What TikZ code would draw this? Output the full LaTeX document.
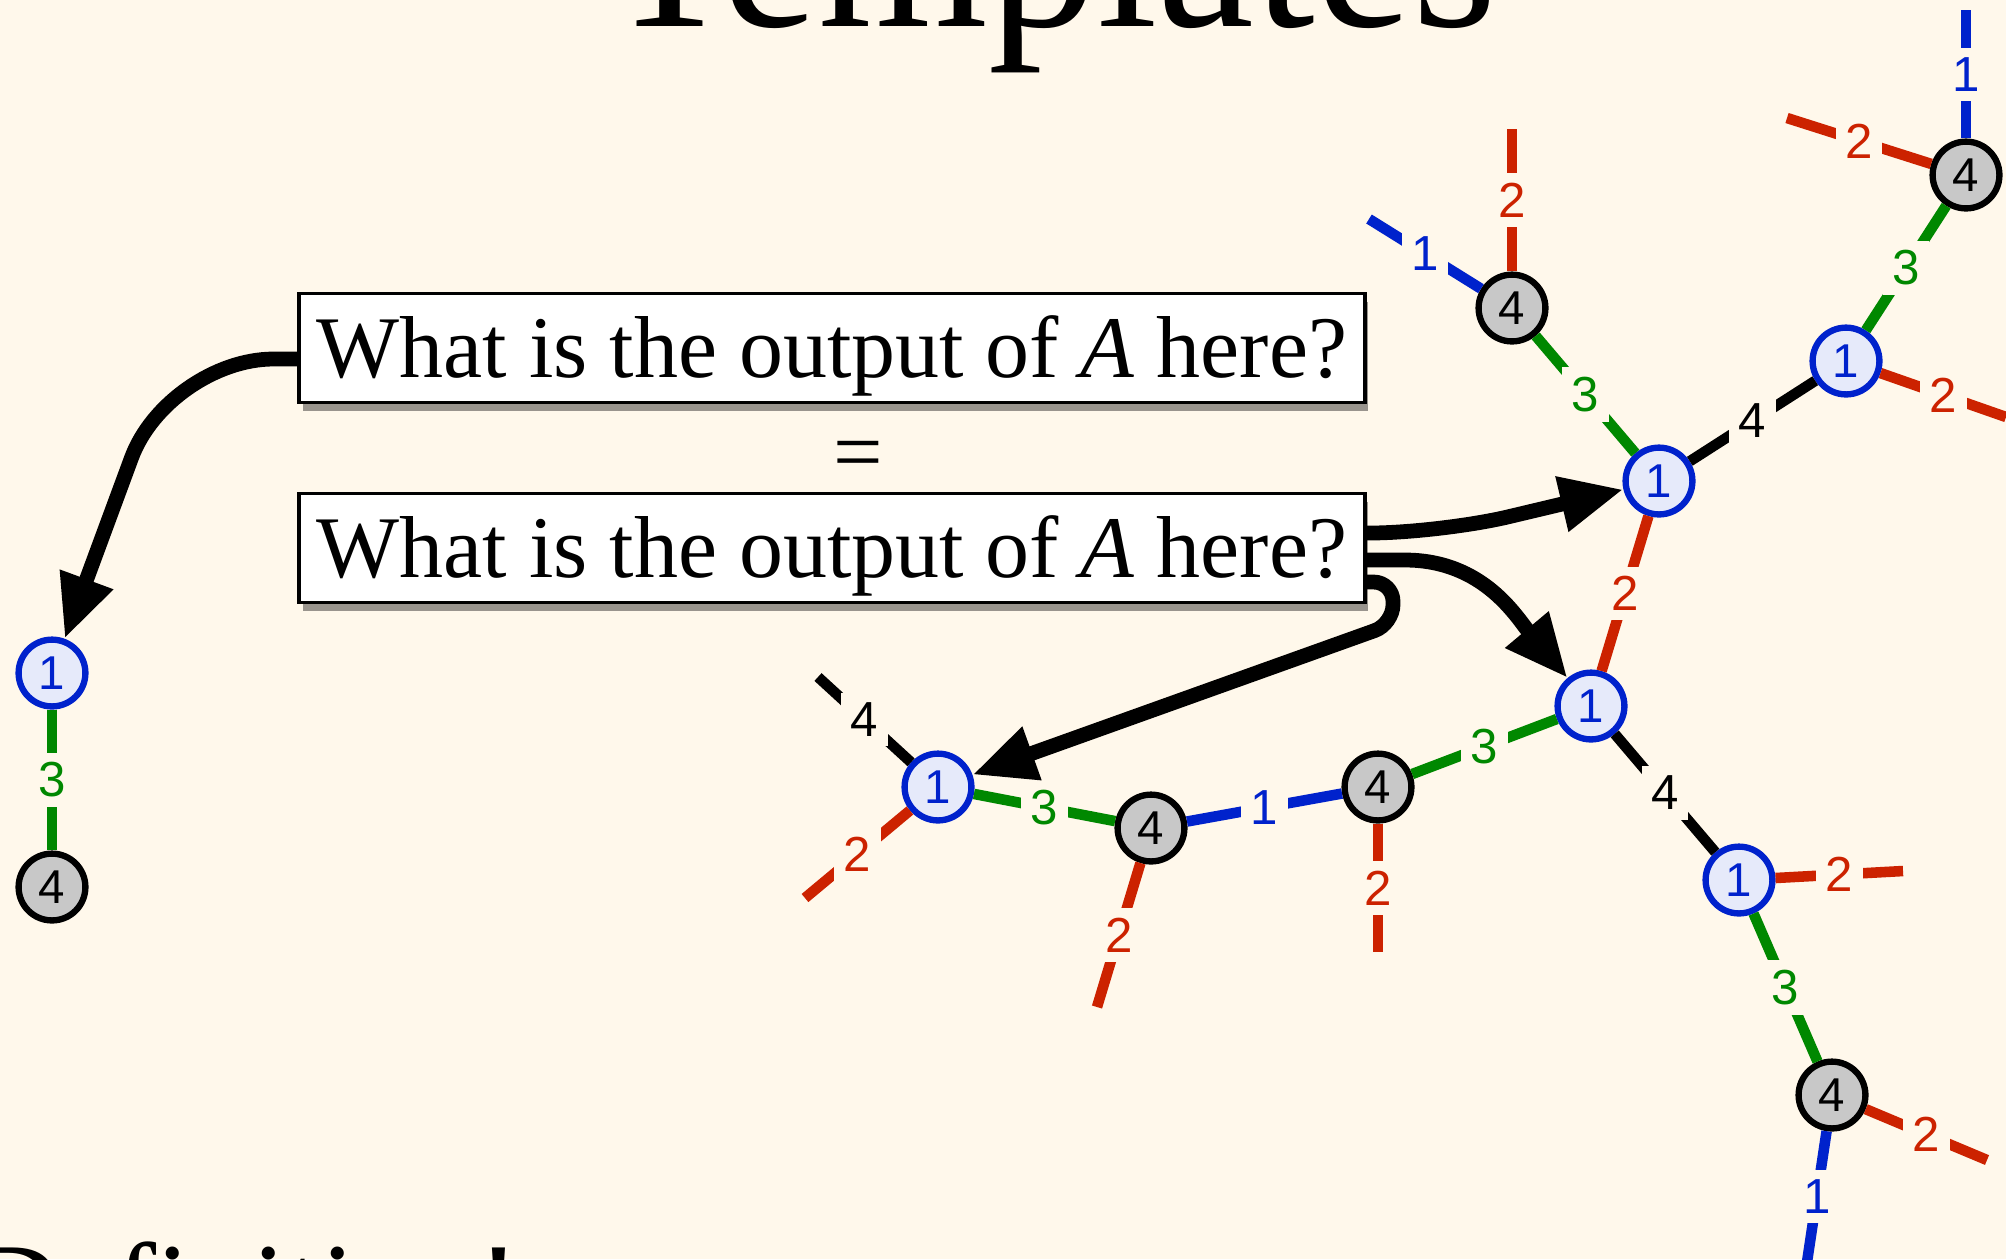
\documentclass[tikz,border=0pt]{standalone}
\usepackage{fontspec}
\setmainfont{Liberation Serif}
\newfontfamily\digitfont{Liberation Sans}
\usetikzlibrary{
  arrows.meta,  % Triangle arrow tips
  shadows       % drop shadow under the question boxes
}
\definecolor{paper}{RGB}{255,248,235}
\definecolor{linkblue}{RGB}{0,34,204}
\definecolor{linkred}{RGB}{204,34,0}
\definecolor{linkgreen}{RGB}{0,136,0}
\definecolor{onefill}{RGB}{230,234,250}
\definecolor{fourfill}{RGB}{200,200,200}
\tikzset{
  vertex one/.style={
    circle,
    draw=linkblue,
    fill=onefill,
    text=linkblue,
    line width=1.8pt,
    minimum size=19pt,
    inner sep=0pt,
    font=\digitfont\fontsize{13.5}{15}\selectfont
  },
  vertex four/.style={
    vertex one,
    draw=black,
    fill=fourfill,
    text=black
  },
  link/.style={
    line width=3pt
  },
  link one/.style={link, color=linkblue},
  link two/.style={link, color=linkred},
  link three/.style={link, color=linkgreen},
  link four/.style={link, color=black},
  link label/.style={
    fill=paper,
    inner sep=2.75pt,
    font=\digitfont\fontsize{14}{16}\selectfont
  },
  question/.style={
    draw,
    line width=1pt,
    fill=white,
    minimum width=303pt,
    minimum height=31pt,
    inner sep=0pt,
    text height=22pt,
    text depth=5.4pt,
    font=\fontsize{25}{30}\selectfont,
    drop shadow={shadow xshift=1pt, shadow yshift=-2.5pt, fill=black, opacity=0.4}
  },
  pointer/.style={
    -{Triangle[length=18pt, width=15pt]},
    line width=4.2pt
  }
}

\begin{document}
\begin{tikzpicture}[x=0.01cm, y=-0.01cm]
    % --- page ---
    \useasboundingbox (0,0) rectangle (2006,1259);
    \clip (0,0) rectangle (2006,1259);
    \fill[paper] (0,0) rectangle (2006,1259);

    % --- headings (cut by the page edge) ---
    \node[anchor=base, font=\fontsize{62}{64}\selectfont] (title) at (1050,26) {Templates};
    \node[anchor=base west, font=\fontsize{35}{40}\selectfont] (defn) at (-40,1328) {Definition!};

    % --- the two questions ---
    \node[question] (q1) at (832,348) {What is the output of \textit{A} here?};
    \node[font=\fontsize{25}{30}\selectfont] (eq) at (858,461) {=};
    \node[question] (q2) at (832,548) {What is the output of \textit{A} here?};

    % --- small tree on the left ---
    \node[vertex one] (L1) at (52,673) {1};
    \node[vertex four] (L4) at (52,887) {4};
    \draw[link three] (L1) -- node[link label] {3} (L4);

    % --- big tree: vertices ---
    \node[vertex one] (A) at (1659,481) {1};
    \node[vertex one] (B) at (1846,361) {1};
    \node[vertex one] (C) at (1591,706) {1};
    \node[vertex one] (D) at (938,787) {1};
    \node[vertex one] (E) at (1739,880) {1};
    \node[vertex four] (F) at (1512,308) {4};
    \node[vertex four] (G) at (1966,175) {4};
    \node[vertex four] (H) at (1151,828) {4};
    \node[vertex four] (I) at (1378,787) {4};
    \node[vertex four] (J) at (1832,1095) {4};

    % --- big tree: links between vertices ---
    \draw[link three] (D) -- node[link label] {3} (H);
    \draw[link one]   (H) -- node[link label] {1} (I);
    \draw[link three] (I) -- node[link label] {3} (C);
    \draw[link two]   (C) -- node[link label] {2} (A);
    \draw[link three] (A) -- node[link label] {3} (F);
    \draw[link four]  (A) -- node[link label] {4} (B);
    \draw[link three] (B) -- node[link label] {3} (G);
    \draw[link four]  (C) -- node[link label] {4} (E);
    \draw[link three] (E) -- node[link label] {3} (J);

    % --- big tree: open ends ---
    \coordinate (D4) at (818,677);
    \coordinate (D2) at (805,898);
    \coordinate (H2) at (1097,1007);
    \coordinate (I2) at (1378,952);
    \coordinate (F2) at (1512,129);
    \coordinate (F1) at (1369,219);
    \coordinate (G1) at (1966,10);
    \coordinate (G2) at (1787,118);
    \coordinate (B2) at (2006,417);
    \coordinate (E2) at (1903,871);
    \coordinate (J2) at (1987,1160);
    \coordinate (J1) at (1807,1262);
    \draw[link four] (D) -- node[link label] {4} (D4);
    \draw[link two]  (D) -- node[link label] {2} (D2);
    \draw[link two]  (H) -- node[link label] {2} (H2);
    \draw[link two]  (I) -- node[link label] {2} (I2);
    \draw[link two]  (F) -- node[link label] {2} (F2);
    \draw[link one]  (F) -- node[link label] {1} (F1);
    \draw[link one]  (G) -- node[link label] {1} (G1);
    \draw[link two]  (G) -- node[link label] {2} (G2);
    \draw[link two]  (B) -- node[link label] {2} (B2);
    \draw[link two]  (E) -- node[link label] {2} (E2);
    \draw[link two]  (J) -- node[link label] {2} (J2);
    \draw[link one]  (J) -- node[link label] {1} (J1);

    % --- pointers from the questions ---
    \coordinate (bend1) at (168,359);
    \draw[pointer, rounded corners=30pt] (q1.west |- bend1) -- (bend1) -- (L1);

    \coordinate (bend2) at (1440,533);
    \draw[pointer, rounded corners=20pt] (q2.east |- bend2) -- (bend2) -- (A);

    \coordinate (bend3) at (1405,560);
    \draw[pointer] (q2.east |- bend3) -- (bend3) to[out=0, in=130] (C);

    \coordinate (loopa) at (1393,582);
    \coordinate (loopb) at (1393,624);
    \draw[pointer, rounded corners=5.5pt] (q2.east |- loopa) -- (loopa) -- (loopb) -- (D);

\end{tikzpicture}
\end{document}
